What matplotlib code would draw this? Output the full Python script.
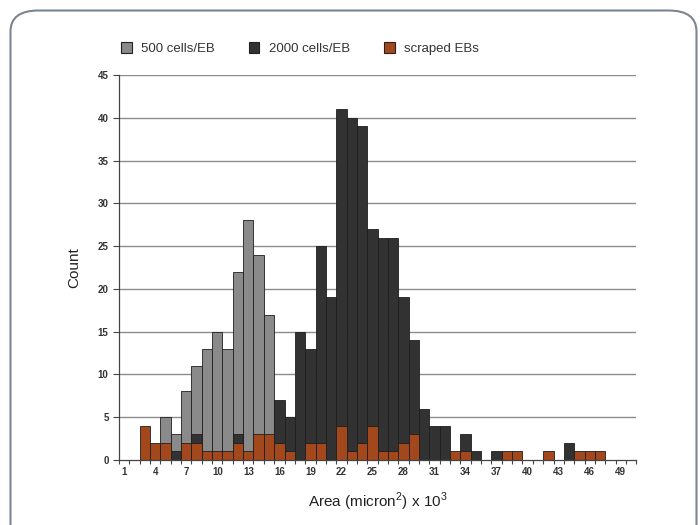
import numpy as np
import matplotlib.pyplot as plt
from matplotlib.patches import Patch, FancyBboxPatch

plt.rcParams['font.family'] = ['Liberation Sans', 'DejaVu Sans']
plt.rcParams['mathtext.fontset'] = 'custom'
plt.rcParams['mathtext.rm'] = 'Liberation Sans'

# categories 1..50 (area bins, x 10^3 micron^2)
bins = np.arange(1, 51)

# counts, {bin: count}
cells500 = {5: 5, 6: 3, 7: 8, 8: 11, 9: 13, 10: 15, 11: 13, 12: 22, 13: 28,
            14: 24, 15: 17}
cells2000 = {6: 1, 8: 3, 12: 3, 16: 7, 17: 5, 18: 15, 19: 13, 20: 25, 21: 19,
             22: 41, 23: 40, 24: 39, 25: 27, 26: 26, 27: 26, 28: 19, 29: 14,
             30: 6, 31: 4, 32: 4, 34: 3, 35: 1, 37: 1, 44: 2}
scraped = {3: 4, 4: 2, 5: 2, 7: 2, 8: 2, 9: 1, 10: 1, 11: 1, 12: 2, 13: 1,
           14: 3, 15: 3, 16: 2, 17: 1, 19: 2, 20: 2, 22: 4, 23: 1, 24: 2,
           25: 4, 26: 1, 27: 1, 28: 2, 29: 3, 33: 1, 34: 1, 38: 1, 39: 1,
           42: 1, 45: 1, 46: 1, 47: 1}

labels = ['500 cells/EB', '2000 cells/EB', 'scraped EBs']
colors = ['#8a8a8a', '#323232', '#a3471d']

fig = plt.figure(figsize=(7, 5.25), dpi=100)
fig.patches.append(FancyBboxPatch((0.015, -0.05), 0.98, 1.03,
                                  boxstyle='round,pad=0,rounding_size=0.04',
                                  transform=fig.transFigure, fill=False,
                                  edgecolor='#7a8690', linewidth=1.5))

ax = fig.add_axes([0.170, 0.124, 0.739, 0.733])

for y in range(5, 50, 5):
    ax.axhline(y, color='#8c8c8c', lw=1.0, zorder=0)

for data, c in zip([cells500, cells2000, scraped], colors):
    xs = list(data.keys())
    ys = list(data.values())
    ax.bar(xs, ys, width=1.0, color=c, edgecolor='#1e1e1e', linewidth=0.6,
           zorder=2)

ax.set_xlim(0.5, 50.5)
ax.set_ylim(0, 45)
ax.set_yticks(range(0, 50, 5))
ax.set_xticks(bins[::3])
ax.set_xticks(np.arange(0.5, 51, 1), minor=True)
ax.tick_params(axis='x', which='major', length=0, pad=5, labelsize=7,
               labelcolor='#333333')
ax.tick_params(axis='x', which='minor', length=3, direction='out',
               color='#444444', width=0.8)
ax.tick_params(axis='y', length=4, color='#444444', width=0.8,
               labelsize=7, labelcolor='#333333')
for lab in ax.get_xticklabels() + ax.get_yticklabels():
    lab.set_fontweight('bold')

for s in ['top', 'right']:
    ax.spines[s].set_visible(False)
for s in ['left', 'bottom']:
    ax.spines[s].set_color('#444444')
    ax.spines[s].set_linewidth(0.9)

ax.set_ylabel('Count', fontsize=11, color='#222222', labelpad=12)
ax.set_xlabel(r'Area (micron$^2$) x 10$^3$', fontsize=11,
              color='#222222', labelpad=10)

handles = [Patch(facecolor=c, edgecolor='#222222', linewidth=0.8)
           for c in colors]
fig.legend(handles, labels, loc='center left', bbox_to_anchor=(0.156, 0.908),
           ncol=3, frameon=False, fontsize=9.5, handlelength=0.8,
           handleheight=0.9, handletextpad=0.7, columnspacing=2.6,
           labelcolor='#333333')

fig.savefig('out.png', dpi=100, facecolor='white')
